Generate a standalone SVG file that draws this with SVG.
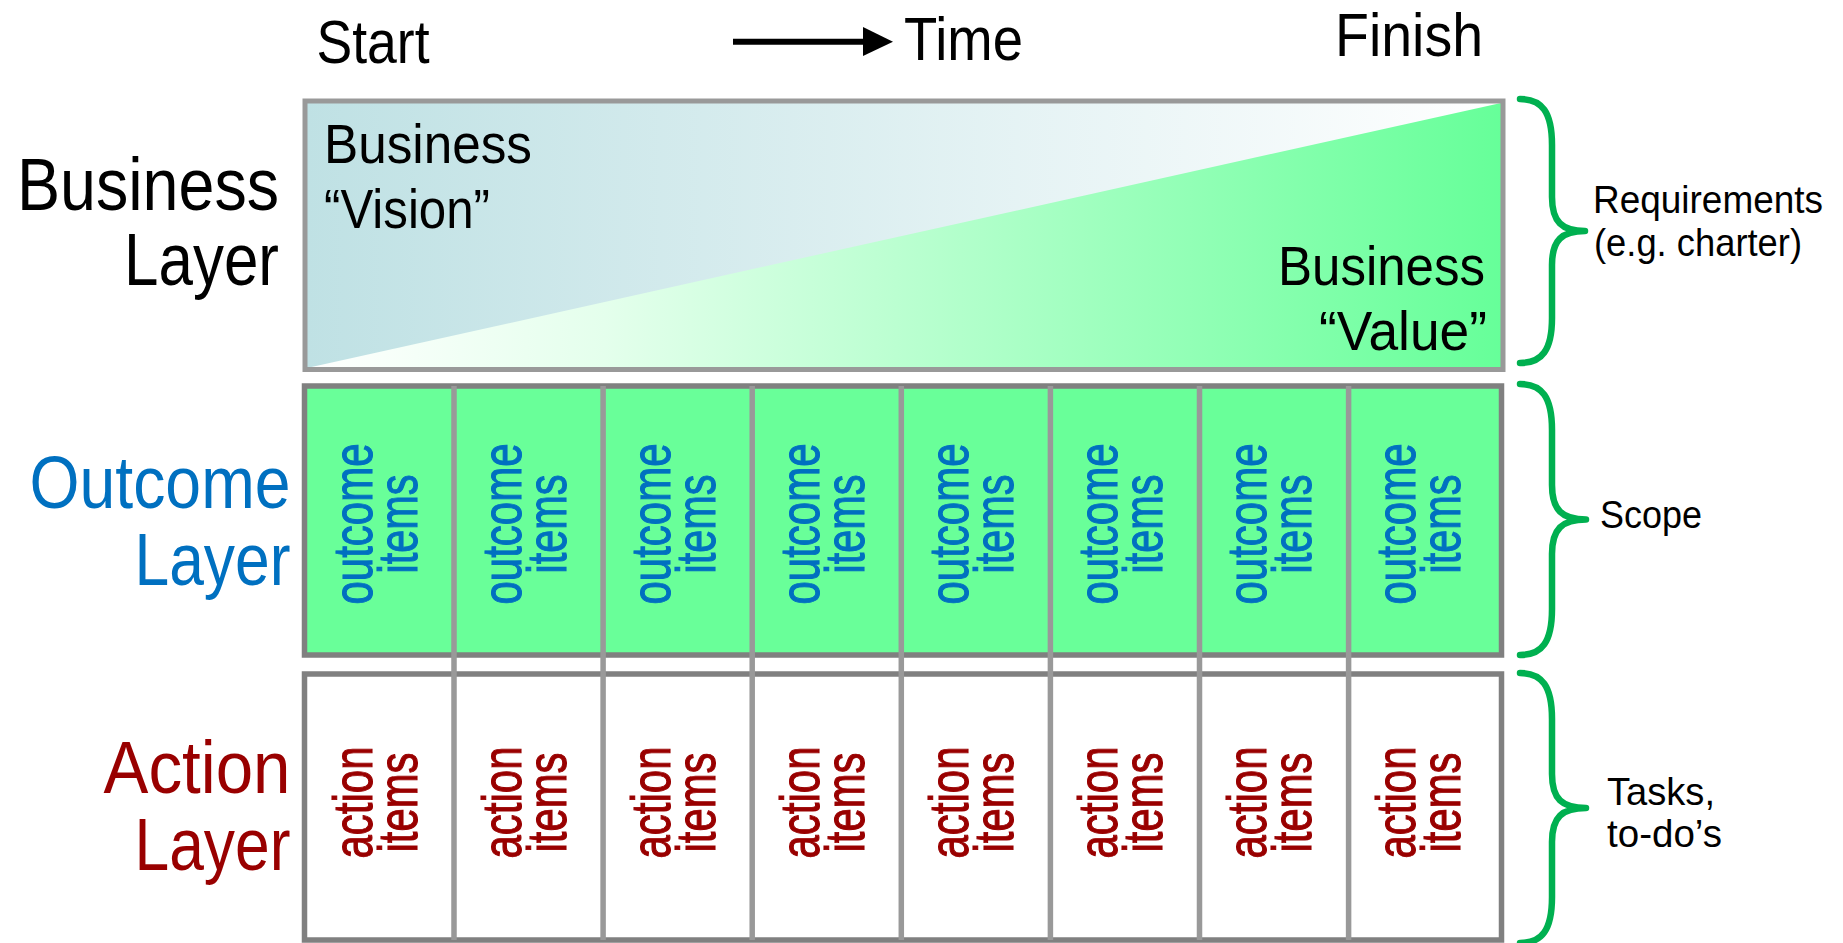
<svg xmlns="http://www.w3.org/2000/svg" width="1843" height="943" viewBox="0 0 1843 943">
<style>
text{font-family:"Liberation Sans Narrow","Liberation Sans",Arial,sans-serif;}
.hdr{font-size:62px;fill:#000;}
.lbl{font-size:74px;text-anchor:end;}
.in{font-size:56px;fill:#000;}
.br{font-size:39px;fill:#000;}
.vt{font-size:56px;text-anchor:middle;stroke-width:1.1;}
.blue{fill:#0070C0;}
.red{fill:#990000;}
.vt.blue{stroke:#0070C0;}
.vt.red{stroke:#990000;}
.box{stroke:#808080;stroke-width:5.5;}
.div{stroke:#999999;stroke-width:5.5;}
.brace{fill:none;stroke:#00B050;stroke-width:6.5;stroke-linecap:round;stroke-linejoin:round;}
</style>
<defs>
<linearGradient id="gUp" gradientUnits="userSpaceOnUse" x1="305" y1="0" x2="1503" y2="0">
<stop offset="0" stop-color="#BFE1E4"/>
<stop offset="1" stop-color="#FFFFFF"/>
</linearGradient>
<linearGradient id="gLow" gradientUnits="userSpaceOnUse" x1="305" y1="0" x2="1503" y2="0">
<stop offset="0" stop-color="#FFFFFF"/>
<stop offset="0.25" stop-color="#E4FFEC"/>
<stop offset="1" stop-color="#66FF99"/>
</linearGradient>
</defs>
<rect width="1843" height="943" fill="#FFFFFF"/>

<g id="header">
<text class="hdr" x="316.5" y="63" textLength="113" lengthAdjust="spacingAndGlyphs">Start</text>
<text class="hdr" x="904" y="60" textLength="119" lengthAdjust="spacingAndGlyphs">Time</text>
<text class="hdr" x="1335" y="56" textLength="148" lengthAdjust="spacingAndGlyphs">Finish</text>
</g>

<g id="connectors">
<line x1="733" y1="41.7" x2="866" y2="41.7" stroke="#000" stroke-width="6"/>
<polygon points="863,27 893,41.7 863,56" fill="#000"/>
</g>

<g id="business-layer">
<rect x="305" y="101" width="1198" height="268.5" fill="url(#gUp)"/>
<polygon points="307,368 1501,103 1501,368" fill="url(#gLow)"/>
<rect x="305" y="101" width="1198" height="268.5" fill="none" stroke="#999999" stroke-width="5"/>
<text class="in" x="324" y="163" textLength="208" lengthAdjust="spacingAndGlyphs">Business</text>
<text class="in" x="324" y="228" textLength="166" lengthAdjust="spacingAndGlyphs">“Vision”</text>
<text class="in" x="1278" y="285" textLength="207" lengthAdjust="spacingAndGlyphs">Business</text>
<text class="in" x="1319" y="350" textLength="168" lengthAdjust="spacingAndGlyphs">“Value”</text>
</g>

<g id="layer-labels">
<text class="lbl" x="279" y="210" fill="#000" textLength="262" lengthAdjust="spacingAndGlyphs">Business</text>
<text class="lbl" x="279" y="285" fill="#000" textLength="155" lengthAdjust="spacingAndGlyphs">Layer</text>
<text class="lbl blue" x="290.5" y="508" textLength="261" lengthAdjust="spacingAndGlyphs">Outcome</text>
<text class="lbl blue" x="290.5" y="585" textLength="156" lengthAdjust="spacingAndGlyphs">Layer</text>
<text class="lbl red" x="290.5" y="793" textLength="187" lengthAdjust="spacingAndGlyphs">Action</text>
<text class="lbl red" x="290.5" y="870" textLength="156" lengthAdjust="spacingAndGlyphs">Layer</text>
</g>

<g id="outcome-layer">
<rect class="box" x="304.5" y="386" width="1197" height="269" fill="#69FF99"/>
</g>
<g id="action-layer">
<rect class="box" x="304.5" y="674" width="1197" height="266" fill="#FFFFFF"/>
</g>

<g id="column-dividers">
<line class="div" x1="454" y1="386" x2="454" y2="940"/>
<line class="div" x1="603.1" y1="386" x2="603.1" y2="940"/>
<line class="div" x1="752.2" y1="386" x2="752.2" y2="940"/>
<line class="div" x1="901.3" y1="386" x2="901.3" y2="940"/>
<line class="div" x1="1050.4" y1="386" x2="1050.4" y2="940"/>
<line class="div" x1="1199.5" y1="386" x2="1199.5" y2="940"/>
<line class="div" x1="1348.6" y1="386" x2="1348.6" y2="940"/>
</g>

<g id="outcome-items">
<g id="outcome-1"><text class="vt blue" x="372" y="524" transform="rotate(-90 372 524)" textLength="161" lengthAdjust="spacingAndGlyphs">outcome</text><text class="vt blue" x="417" y="524" transform="rotate(-90 417 524)" textLength="99" lengthAdjust="spacingAndGlyphs">items</text></g>
<g id="outcome-2"><text class="vt blue" x="520.5" y="524" transform="rotate(-90 520.5 524)" textLength="161" lengthAdjust="spacingAndGlyphs">outcome</text><text class="vt blue" x="565.5" y="524" transform="rotate(-90 565.5 524)" textLength="99" lengthAdjust="spacingAndGlyphs">items</text></g>
<g id="outcome-3"><text class="vt blue" x="669.6" y="524" transform="rotate(-90 669.6 524)" textLength="161" lengthAdjust="spacingAndGlyphs">outcome</text><text class="vt blue" x="714.6" y="524" transform="rotate(-90 714.6 524)" textLength="99" lengthAdjust="spacingAndGlyphs">items</text></g>
<g id="outcome-4"><text class="vt blue" x="818.7" y="524" transform="rotate(-90 818.7 524)" textLength="161" lengthAdjust="spacingAndGlyphs">outcome</text><text class="vt blue" x="863.7" y="524" transform="rotate(-90 863.7 524)" textLength="99" lengthAdjust="spacingAndGlyphs">items</text></g>
<g id="outcome-5"><text class="vt blue" x="967.8" y="524" transform="rotate(-90 967.8 524)" textLength="161" lengthAdjust="spacingAndGlyphs">outcome</text><text class="vt blue" x="1012.8" y="524" transform="rotate(-90 1012.8 524)" textLength="99" lengthAdjust="spacingAndGlyphs">items</text></g>
<g id="outcome-6"><text class="vt blue" x="1116.9" y="524" transform="rotate(-90 1116.9 524)" textLength="161" lengthAdjust="spacingAndGlyphs">outcome</text><text class="vt blue" x="1161.9" y="524" transform="rotate(-90 1161.9 524)" textLength="99" lengthAdjust="spacingAndGlyphs">items</text></g>
<g id="outcome-7"><text class="vt blue" x="1266" y="524" transform="rotate(-90 1266 524)" textLength="161" lengthAdjust="spacingAndGlyphs">outcome</text><text class="vt blue" x="1311" y="524" transform="rotate(-90 1311 524)" textLength="99" lengthAdjust="spacingAndGlyphs">items</text></g>
<g id="outcome-8"><text class="vt blue" x="1415.1" y="524" transform="rotate(-90 1415.1 524)" textLength="161" lengthAdjust="spacingAndGlyphs">outcome</text><text class="vt blue" x="1460.1" y="524" transform="rotate(-90 1460.1 524)" textLength="99" lengthAdjust="spacingAndGlyphs">items</text></g>
</g>

<g id="action-items">
<g id="action-1"><text class="vt red" x="372" y="802.5" transform="rotate(-90 372 802.5)" textLength="112" lengthAdjust="spacingAndGlyphs">action</text><text class="vt red" x="417" y="802.5" transform="rotate(-90 417 802.5)" textLength="100" lengthAdjust="spacingAndGlyphs">items</text></g>
<g id="action-2"><text class="vt red" x="520.5" y="802.5" transform="rotate(-90 520.5 802.5)" textLength="112" lengthAdjust="spacingAndGlyphs">action</text><text class="vt red" x="565.5" y="802.5" transform="rotate(-90 565.5 802.5)" textLength="100" lengthAdjust="spacingAndGlyphs">items</text></g>
<g id="action-3"><text class="vt red" x="669.6" y="802.5" transform="rotate(-90 669.6 802.5)" textLength="112" lengthAdjust="spacingAndGlyphs">action</text><text class="vt red" x="714.6" y="802.5" transform="rotate(-90 714.6 802.5)" textLength="100" lengthAdjust="spacingAndGlyphs">items</text></g>
<g id="action-4"><text class="vt red" x="818.7" y="802.5" transform="rotate(-90 818.7 802.5)" textLength="112" lengthAdjust="spacingAndGlyphs">action</text><text class="vt red" x="863.7" y="802.5" transform="rotate(-90 863.7 802.5)" textLength="100" lengthAdjust="spacingAndGlyphs">items</text></g>
<g id="action-5"><text class="vt red" x="967.8" y="802.5" transform="rotate(-90 967.8 802.5)" textLength="112" lengthAdjust="spacingAndGlyphs">action</text><text class="vt red" x="1012.8" y="802.5" transform="rotate(-90 1012.8 802.5)" textLength="100" lengthAdjust="spacingAndGlyphs">items</text></g>
<g id="action-6"><text class="vt red" x="1116.9" y="802.5" transform="rotate(-90 1116.9 802.5)" textLength="112" lengthAdjust="spacingAndGlyphs">action</text><text class="vt red" x="1161.9" y="802.5" transform="rotate(-90 1161.9 802.5)" textLength="100" lengthAdjust="spacingAndGlyphs">items</text></g>
<g id="action-7"><text class="vt red" x="1266" y="802.5" transform="rotate(-90 1266 802.5)" textLength="112" lengthAdjust="spacingAndGlyphs">action</text><text class="vt red" x="1311" y="802.5" transform="rotate(-90 1311 802.5)" textLength="100" lengthAdjust="spacingAndGlyphs">items</text></g>
<g id="action-8"><text class="vt red" x="1415.1" y="802.5" transform="rotate(-90 1415.1 802.5)" textLength="112" lengthAdjust="spacingAndGlyphs">action</text><text class="vt red" x="1460.1" y="802.5" transform="rotate(-90 1460.1 802.5)" textLength="100" lengthAdjust="spacingAndGlyphs">items</text></g>
</g>

<g id="brace-requirements">
<path class="brace" d="M1520 99 C1542 99 1552 112 1552 145 L1552 197 C1552 222 1562 231 1585 231 C1562 231 1552 240 1552 265 L1552 318 C1552 350 1542 363 1520 363"/>
<text class="br" x="1593" y="213" textLength="230" lengthAdjust="spacingAndGlyphs">Requirements</text>
<text class="br" x="1594" y="256" textLength="208" lengthAdjust="spacingAndGlyphs">(e.g. charter)</text>
</g>
<g id="brace-scope">
<path class="brace" d="M1520 384 C1542 384 1552 397 1552 430 L1552 485 C1552 510 1562 519.5 1586 519.5 C1562 519.5 1552 529 1552 554 L1552 609 C1552 642 1542 655 1520 655"/>
<text class="br" x="1600" y="527.5" textLength="102" lengthAdjust="spacingAndGlyphs">Scope</text>
</g>
<g id="brace-tasks">
<path class="brace" d="M1520 673 C1542 673 1552 686 1552 719 L1552 774 C1552 799 1562 808 1586 808 C1562 808 1552 817 1552 842 L1552 897 C1552 930 1542 943 1520 943"/>
<text class="br" x="1607" y="805" textLength="108" lengthAdjust="spacingAndGlyphs">Tasks,</text>
<text class="br" x="1607" y="847" textLength="115" lengthAdjust="spacingAndGlyphs">to-do’s</text>
</g>
</svg>
